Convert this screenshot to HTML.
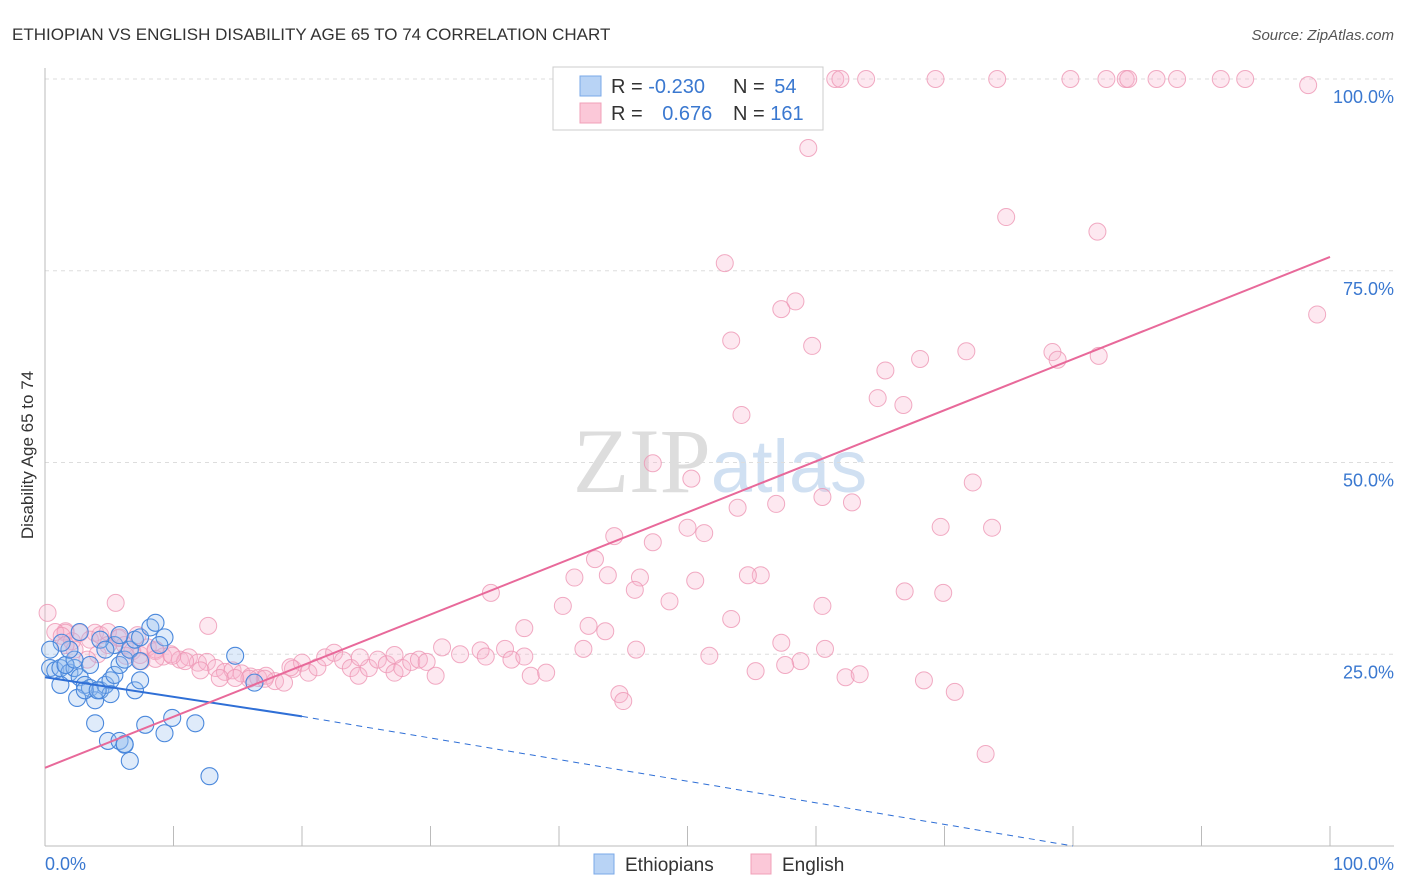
<!DOCTYPE html>
<html><head><meta charset="utf-8"><style>
body{margin:0;background:#fff;font-family:"Liberation Sans",sans-serif;}
svg{display:block}
</style></head><body>
<svg id="c" width="1406" height="892" xmlns="http://www.w3.org/2000/svg">
<text x="12" y="40" font-size="17" fill="#333">ETHIOPIAN VS ENGLISH DISABILITY AGE 65 TO 74 CORRELATION CHART</text>
<text x="1394" y="40" font-size="15" fill="#555" font-style="italic" text-anchor="end">Source: ZipAtlas.com</text>
<text x="33" y="455" font-size="17" fill="#333" transform="rotate(-90 33 455)" text-anchor="middle">Disability Age 65 to 74</text>
<text x="720" y="492" font-size="92" fill="#ddd" text-anchor="middle" font-family="Liberation Serif">ZIP<tspan fill="#d0e0f2" font-family="Liberation Sans" font-size="74">atlas</tspan></text>
<g id="grid"></g><g id="pts"></g><g id="trend"></g>
<rect x="553" y="67" width="270" height="63" fill="#fff" stroke="#ccc"/>
<rect x="580" y="76" width="21" height="20" fill="#b8d3f5" stroke="#7aa8e8"/>
<rect x="580" y="103" width="21" height="20" fill="#fbc8d8" stroke="#f0a0b8"/>
<text x="611" y="93" font-size="20" fill="#333">R = <tspan fill="#3a78d0">-0.230</tspan></text>
<text x="733" y="93" font-size="20" fill="#333">N = <tspan fill="#3a78d0" dx="4">54</tspan></text>
<text x="611" y="120" font-size="20" fill="#333">R = <tspan fill="#3a78d0" dx="14">0.676</tspan></text>
<text x="733" y="120" font-size="20" fill="#333">N = <tspan fill="#3a78d0">161</tspan></text>
<rect x="594" y="854" width="20" height="20" fill="#b8d3f5" stroke="#7aa8e8"/>
<text x="625" y="871" font-size="19" fill="#333">Ethiopians</text>
<rect x="751" y="854" width="20" height="20" fill="#fbc8d8" stroke="#f0a0b8"/>
<text x="782" y="871" font-size="19" fill="#333">English</text>
<text x="45" y="870" font-size="18" fill="#3a78d0">0.0%</text>
<text x="1394" y="870" font-size="18" fill="#3a78d0" text-anchor="end">100.0%</text>
</svg>
<script>
const yTicks=[100,75,50,25];
const yTickLabels=["100.0%","75.0%","50.0%","25.0%"];
const blueX=[0.4,0.8,1.2,1.6,1.9,2.3,2.7,3.1,3.5,3.9,4.3,4.7,5.1,5.4,5.8,6.2,6.6,7.0,7.4,8.2,8.6,9.3,1.2,1.6,2.5,3.1,3.9,4.9,5.8,6.2,6.6,7.8,9.3,9.9,11.7,12.8,14.8,16.3,7.0,7.4,5.4,5.8,4.3,3.5,2.3,1.9,1.3,2.7,4.7,5.1,4.1,6.2,7.4,8.9,0.4];
const blueY=[23.2,22.9,23.2,23.6,22.6,23.2,22.0,21.0,20.6,19.0,20.3,21.0,21.6,22.3,23.6,24.3,25.6,26.9,27.2,28.5,29.1,27.2,21.0,23.6,19.3,20.3,16.0,13.7,13.7,13.2,11.1,15.8,14.7,16.7,16.0,9.1,24.8,21.3,20.3,21.6,26.2,27.5,26.9,23.6,24.3,25.6,26.5,27.9,25.6,19.8,20.3,13.3,24.1,26.2,25.6];
const pinkX=[54.5,61.5,61.9,63.9,69.3,74.1,79.8,82.6,84.1,84.3,86.5,88.1,91.5,93.4,98.3,59.4,74.8,81.9,52.9,58.4,57.3,99.0,53.4,68.1,71.7,78.4,78.8,82.0,59.7,65.4,64.8,66.8,54.2,47.3,50.3,72.2,60.5,56.9,53.9,62.8,69.7,73.7,50.0,44.3,51.3,47.3,41.2,42.8,43.8,55.7,54.7,50.6,46.3,69.9,66.9,45.9,40.3,34.7,48.6,5.5,43.6,60.5,37.3,42.3,53.4,57.3,46.0,1.6,1.6,3.9,41.9,35.8,33.9,32.3,30.9,34.3,36.3,37.3,37.8,39.0,44.7,45.0,51.7,58.8,62.3,68.4,70.8,55.3,57.6,60.7,63.4,73.2,0.2,0.8,1.3,2.1,2.7,3.5,4.3,4.9,5.7,6.2,6.8,7.4,8.0,8.6,9.2,9.8,10.5,11.2,11.9,12.6,13.3,14.0,14.6,15.3,16.0,16.6,17.2,17.9,18.6,19.3,20.0,20.5,21.2,21.8,22.5,23.2,23.8,24.4,25.2,25.9,26.6,27.2,27.8,28.5,29.1,29.7,30.4,27.2,24.5,19.1,17.1,15.9,14.8,13.6,12.1,10.9,9.9,8.6,7.5,6.3,4.9,4.1,3.3,2.3,1.6,5.8,7.2,8.6,12.7];
const pinkY=[100,100,100,100,100,100,100,100,100,100,100,100,100,100,99.2,91.0,82.0,80.1,76.0,71.0,70.0,69.3,65.9,63.5,64.5,64.4,63.4,63.9,65.2,62.0,58.4,57.5,56.2,49.9,47.9,47.4,45.5,44.6,44.1,44.8,41.6,41.5,41.5,40.4,40.8,39.6,35.0,37.4,35.3,35.3,35.3,34.6,35.0,33.0,33.2,33.4,31.3,33.0,31.9,31.7,28.0,31.3,28.4,28.7,29.6,26.5,25.6,28.0,27.8,27.8,25.7,25.7,25.5,25.0,25.9,24.7,24.3,24.7,22.2,22.6,19.8,18.9,24.8,24.1,22.0,21.6,20.1,22.8,23.6,25.7,22.4,12.0,30.4,27.9,27.4,26.7,27.8,26.9,27.5,27.9,27.1,26.2,25.4,24.9,25.9,25.4,24.7,25.0,24.3,24.6,23.9,24.0,23.2,22.7,22.9,22.5,22.1,21.9,22.2,21.5,21.3,23.1,23.9,22.6,23.3,24.6,25.2,24.2,23.2,22.2,23.2,24.3,23.7,22.6,23.2,24.0,24.3,24.0,22.2,24.9,24.6,23.3,21.8,21.8,21.9,21.9,22.9,24.1,24.8,25.6,24.1,24.8,26.2,25.0,24.3,25.6,26.2,27.2,27.5,24.4,28.7,25.9,24.1];
const blueTrend=[-0.230,22.0,16.9];
const blueTrendZeroX=80;
const pinkTrend=[0.676,10.2,76.8];
const NS="http://www.w3.org/2000/svg";
const X0=45,X1=1330,YT=79,YB=846;
function sx(v){return X0+(X1-X0)*v/100;}
function sy(v){return YB-(YB-YT)*v/100;}
function mk(tag,at,par){const e=document.createElementNS(NS,tag);for(const k in at)e.setAttribute(k,at[k]);par.appendChild(e);return e;}
const grid=document.getElementById('grid');
yTicks.forEach((t,i)=>{
 const l=mk('line',{x1:X0,x2:1394,y1:sy(t),y2:sy(t),stroke:'#ddd','stroke-dasharray':'4,4'},grid);
 
 
 const tx=mk('text',{x:1394,y:sy(t)+24,'font-size':18,fill:'#3a78d0','text-anchor':'end'},grid);
 tx.textContent=yTickLabels[i];
 
 
});
const ax=mk('line',{x1:X0,x2:1394,y1:YB,y2:YB,stroke:'#bbb'},grid);


const ay=mk('line',{x1:X0,x2:X0,y1:68,y2:YB,stroke:'#bbb'},grid);


for(let i=0;i<=10;i++){const t=mk('line',{x1:sx(i*10),x2:sx(i*10),y1:826,y2:YB,stroke:'#bbb'},grid);
 
 }
const pts=document.getElementById('pts');
pinkX.forEach((x,i)=>{const c=mk('circle',{cx:sx(x),cy:sy(pinkY[i]),r:8.5,fill:'rgba(250,180,205,0.3)',stroke:'rgba(238,150,180,0.8)','stroke-width':1},pts);
 
 });
blueX.forEach((x,i)=>{const c=mk('circle',{cx:sx(x),cy:sy(blueY[i]),r:8.5,fill:'rgba(150,190,240,0.3)',stroke:'#4a88dc','stroke-width':1.1},pts);
 
 });
const tr=document.getElementById('trend');
const b0=blueTrend[1],b1=blueTrend[2];
let l1=mk('line',{x1:sx(0),y1:sy(b0),x2:sx(20),y2:sy(b1),stroke:'#2f6fd6','stroke-width':2},tr);


let l2=mk('line',{x1:sx(20),y1:sy(b1),x2:sx(blueTrendZeroX),y2:sy(0),stroke:'#2f6fd6','stroke-width':1,'stroke-dasharray':'6,5'},tr);


let l3=mk('line',{x1:sx(0),y1:sy(pinkTrend[1]),x2:sx(100),y2:sy(pinkTrend[2]),stroke:'#e8699a','stroke-width':2},tr);


</script>
</body></html>
